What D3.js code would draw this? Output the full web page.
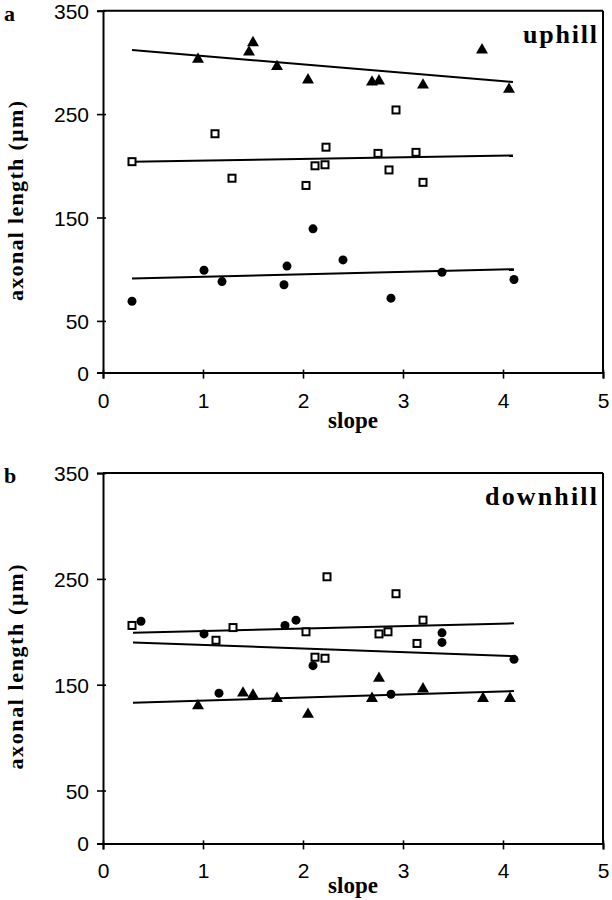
<!DOCTYPE html>
<html><head><meta charset="utf-8">
<script src="https://cdn.jsdelivr.net/npm/d3@7"></script>
<style>html,body{margin:0;padding:0;background:#fff;}</style>
</head><body>
<script>
// ---- data ----
const xTicks = [0, 1, 2, 3, 4, 5];
const yTicks = [0, 50, 150, 250, 350];

// panel a: uphill
const upTriX  = [0.95, 1.46, 1.50, 1.74, 2.05, 2.69, 2.76, 3.20, 3.79, 4.06];
const upTriY  = [303, 310, 319, 296, 283, 281, 282, 278, 312, 274];
const upSqX   = [0.29, 1.12, 1.29, 2.03, 2.12, 2.22, 2.23, 2.75, 2.86, 2.93, 3.13, 3.20];
const upSqY   = [204, 231, 188, 181, 200, 201, 218, 212, 196, 254, 213, 184];
const upCircX = [0.29, 1.01, 1.19, 1.81, 1.84, 2.10, 2.40, 2.88, 3.39, 4.11];
const upCircY = [69, 99, 88, 85, 103, 139, 109, 72, 97, 90];
const upFitTri  = [[0.29, 312], [4.10, 281]];
const upFitSq   = [[0.29, 204], [4.10, 210]];
const upFitCirc = [[0.29, 91], [4.11, 100]];

// panel b: downhill
const dnSqX   = [0.29, 1.13, 1.30, 2.03, 2.12, 2.22, 2.24, 2.76, 2.85, 2.93, 3.14, 3.20];
const dnSqY   = [206, 192, 204, 200, 176, 175, 252, 198, 200, 236, 189, 211];
const dnCircX = [0.38, 1.01, 1.16, 1.82, 1.93, 2.10, 2.88, 3.39, 3.39, 4.11];
const dnCircY = [210, 198, 142, 206, 211, 168, 141, 199, 190, 174];
const dnTriX  = [0.95, 1.40, 1.50, 1.74, 2.05, 2.69, 2.76, 3.20, 3.80, 4.07];
const dnTriY  = [130, 142, 140, 137, 122, 137, 156, 146, 137, 137];
const dnFitSq   = [[0.30, 199], [4.11, 208]];
const dnFitCirc = [[0.30, 190], [4.11, 177]];
const dnFitTri  = [[0.30, 133], [4.11, 144]];

const zip = (xs, ys) => xs.map((x, i) => [x, ys[i]]);

const panels = [
  { letter: "a", label: "uphill", top: 10.7, bottom: 372.6, labelLen: 74, titleC: 201, titleLen: 200, slopeY: 428,
    tri: zip(upTriX, upTriY), sq: zip(upSqX, upSqY), circ: zip(upCircX, upCircY),
    fits: [upFitTri, upFitSq, upFitCirc] },
  { letter: "b", label: "downhill", top: 473.1, bottom: 843.4, labelLen: 112, titleC: 667, titleLen: 205, slopeY: 893,
    tri: zip(dnTriX, dnTriY), sq: zip(dnSqX, dnSqY), circ: zip(dnCircX, dnCircY),
    fits: [dnFitSq, dnFitCirc, dnFitTri] }
];

const W = 612, H = 900;
const svg = d3.select("body").append("svg").attr("width", W).attr("height", H)
  .style("background", "#fff");

const x = d3.scaleLinear().domain([0, 5]).range([103, 603]);
const serif = "'Liberation Serif', 'Times New Roman', serif";
const sans = "'Liberation Sans', Arial, sans-serif";

panels.forEach(p => {
  const y = d3.scaleLinear().domain([0, 350]).range([p.bottom, p.top]);
  const g = svg.append("g");

  // frame (top and right)
  g.append("line").attr("x1", x(0)).attr("x2", x(5)).attr("y1", y(350)).attr("y2", y(350))
    .attr("stroke", "#000").attr("stroke-width", 2);
  g.append("line").attr("x1", x(5)).attr("x2", x(5)).attr("y1", y(350)).attr("y2", y(0))
    .attr("stroke", "#000").attr("stroke-width", 2);

  // axes
  const xa = g.append("g").attr("transform", `translate(0,${y(0)})`)
    .call(d3.axisBottom(x).tickValues(xTicks).tickFormat(d3.format("d")).tickSizeOuter(0).tickSize(6).tickPadding(14));
  const ya = g.append("g").attr("transform", `translate(${x(0)},0)`)
    .call(d3.axisLeft(y).tickValues(yTicks).tickFormat(d3.format("d")).tickSizeOuter(0).tickSize(6).tickPadding(8));
  [xa, ya].forEach(a => {
    a.select(".domain").attr("stroke", "#000").attr("stroke-width", 2);
    a.selectAll(".tick line").attr("stroke", "#000").attr("stroke-width", 1.6);
    a.selectAll("text").attr("fill", "#000").style("font-family", sans).style("font-size", "21px");
  });
  xa.selectAll(".tick line").attr("y1", -3);
  ya.selectAll(".tick line").attr("x1", 3);
  xa.selectAll("text").attr("dy", "0.71em");
  ya.selectAll("text").attr("dy", "0.36em");

  // regression lines
  const line = d3.line().x(d => x(d[0])).y(d => y(d[1]));
  p.fits.forEach(f => {
    g.append("path").attr("d", line(f)).attr("fill", "none").attr("stroke", "#000").attr("stroke-width", 2);
  });

  // markers
  const triSym = d3.symbol().type(d3.symbolTriangle).size(62);
  g.selectAll(".tri").data(p.tri).join("path").attr("class", "tri")
    .attr("d", triSym).attr("transform", d => `translate(${x(d[0])},${y(d[1])})`).attr("fill", "#000");
  g.selectAll(".sq").data(p.sq).join("rect").attr("class", "sq")
    .attr("x", d => x(d[0]) - 3.5).attr("y", d => y(d[1]) - 3.5)
    .attr("width", 7).attr("height", 7)
    .attr("fill", "#fff").attr("stroke", "#000").attr("stroke-width", 2);
  g.selectAll(".circ").data(p.circ).join("circle").attr("class", "circ")
    .attr("cx", d => x(d[0])).attr("cy", d => y(d[1])).attr("r", 4.5).attr("fill", "#000");

  // texts
  g.append("text").attr("x", 4).attr("y", p.top + 10).text(p.letter)
    .style("font-family", serif).style("font-weight", "bold").style("font-size", "22px");
  g.append("text").attr("x", 597).attr("y", p.top + 32).attr("text-anchor", "end")
    .attr("textLength", p.labelLen).text(p.label)
    .style("font-family", serif).style("font-weight", "bold").style("font-size", "26px");
  g.append("text").attr("x", 353).attr("y", p.slopeY).attr("text-anchor", "middle")
    .text("slope")
    .style("font-family", serif).style("font-weight", "bold").style("font-size", "23px");
  g.append("text").attr("transform", `translate(23,${p.titleC}) rotate(-90)`)
    .attr("text-anchor", "middle").attr("textLength", p.titleLen)
    .text("axonal length (\u00b5m)")
    .style("font-family", serif).style("font-weight", "bold").style("font-size", "22px");
});
</script>
</body></html>
